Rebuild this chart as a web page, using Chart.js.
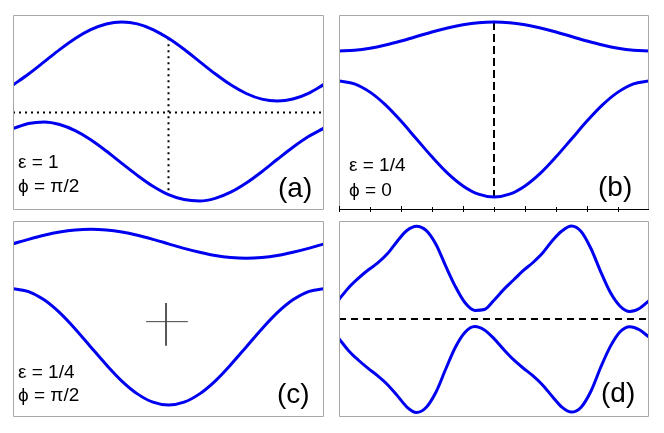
<!DOCTYPE html>
<html>
<head>
<meta charset="utf-8">
<script src="https://cdn.jsdelivr.net/npm/chart.js@4.4.1/dist/chart.umd.min.js"></script>
<style>
  html, body { margin: 0; padding: 0; background: #fff; }
  #wrap { position: relative; width: 664px; height: 433px; overflow: hidden; }
  #wrap canvas { position: absolute; }
</style>
</head>
<body>
<div id="wrap">
  <canvas id="pa" width="311" height="195" style="left:13px;top:15px"></canvas>
  <canvas id="pb" width="310" height="201" style="left:339px;top:15px"></canvas>
  <canvas id="pc" width="311" height="196" style="left:13px;top:221px"></canvas>
  <canvas id="pd" width="310" height="196" style="left:339px;top:221px"></canvas>
</div>
<script>
// sample positions across each panel (fraction of the period window)
const xGrid = [0, 0.05, 0.1, 0.15, 0.2, 0.25, 0.3, 0.35, 0.4, 0.45, 0.5,
               0.55, 0.6, 0.65, 0.7, 0.75, 0.8, 0.85, 0.9, 0.95, 1];
const xFine = [0, 0.031, 0.063, 0.094, 0.125, 0.156, 0.188, 0.219, 0.25, 0.281, 0.313,
               0.344, 0.375, 0.406, 0.438, 0.469, 0.5, 0.531, 0.563, 0.594, 0.625, 0.656,
               0.688, 0.719, 0.75, 0.781, 0.813, 0.844, 0.875, 0.906, 0.938, 0.969, 1];

// (a) eps = 1, phi = pi/2
const aUpper = [0.282, 0.395, 0.519, 0.645, 0.759, 0.849, 0.908, 0.928, 0.909, 0.851, 0.761,
                0.648, 0.522, 0.397, 0.284, 0.195, 0.137, 0.118, 0.138, 0.197, 0.288];
const aLower = [-0.165, -0.113, -0.097, -0.123, -0.186, -0.279, -0.395, -0.522, -0.645, -0.756, -0.842,
                -0.893, -0.908, -0.881, -0.817, -0.723, -0.607, -0.480, -0.356, -0.246, -0.161];
// (b) eps = 1/4, phi = 0
const bUpper = [0.631, 0.638, 0.659, 0.692, 0.733, 0.779, 0.826, 0.867, 0.899, 0.921, 0.928,
                0.921, 0.899, 0.867, 0.826, 0.779, 0.733, 0.692, 0.659, 0.638, 0.631];
const bLower = [0.323, 0.294, 0.209, 0.078, -0.088, -0.272, -0.455, -0.622, -0.753, -0.838, -0.867,
                -0.838, -0.753, -0.622, -0.455, -0.272, -0.088, 0.078, 0.209, 0.294, 0.323];
// (c) eps = 1/4, phi = pi/2
const cUpper = [0.767, 0.813, 0.854, 0.887, 0.908, 0.915, 0.908, 0.887, 0.854, 0.813, 0.767,
                0.721, 0.681, 0.648, 0.627, 0.619, 0.627, 0.648, 0.681, 0.721, 0.767];
const cLower = [0.309, 0.280, 0.196, 0.065, -0.101, -0.285, -0.467, -0.633, -0.764, -0.849, -0.878,
                -0.849, -0.764, -0.633, -0.467, -0.285, -0.101, 0.065, 0.196, 0.280, 0.309];
// (d)
const dUpper = [0.199, 0.320, 0.418, 0.500, 0.572, 0.665, 0.794, 0.903, 0.947, 0.904, 0.760, 0.541, 0.333,
                0.168, 0.088, 0.097, 0.192, 0.300, 0.398, 0.493, 0.574, 0.670, 0.799, 0.898, 0.949, 0.893,
                0.717, 0.484, 0.272, 0.133, 0.076, 0.107, 0.187];
const dLower = [-0.200, -0.323, -0.421, -0.504, -0.580, -0.668, -0.782, -0.898, -0.954, -0.903, -0.745, -0.513, -0.291,
                -0.138, -0.077, -0.112, -0.200, -0.310, -0.415, -0.500, -0.578, -0.670, -0.790, -0.900, -0.950, -0.900,
                -0.735, -0.495, -0.282, -0.132, -0.078, -0.110, -0.185];

// guide lines
const midX = 0.5;
const zeroY = 0;
const crossX = [0.428, 0.562];
const crossY = [0.163, -0.272];
const crossAt = [0.492, -0.027];
const bTicks = [0, 0.1, 0.2, 0.3, 0.4, 0.5, 0.6, 0.7, 0.8, 0.9, 1];

const tags = ['(a)', '(b)', '(c)', '(d)'];
const epsText = ['ε = 1', 'ε = 1/4', 'ε = 1/4'];
const phiText = ['ϕ = π/2', 'ϕ = 0', 'ϕ = π/2'];

const BLUE = 'rgb(0, 0, 240)';
const FRAME = '#a8a8a8';
const FONT = '"Liberation Sans", Arial, sans-serif';

function curve(xs, ys) {
  return {
    data: xs.map((x, i) => ({ x: x, y: ys[i] })),
    borderColor: BLUE, borderWidth: 3, pointRadius: 0,
    cubicInterpolationMode: 'monotone', fill: false
  };
}

function guide(pts, dash, color, width) {
  return {
    data: pts, borderColor: color || '#000', borderWidth: width || 2,
    borderDash: dash, pointRadius: 0, tension: 0, fill: false, borderCapStyle: 'butt'
  };
}

function decor(opt) {
  return {
    id: 'decor',
    afterDraw(chart) {
      const ctx = chart.ctx;
      const a = chart.chartArea;
      ctx.save();
      ctx.lineWidth = 1;
      ctx.strokeStyle = FRAME;
      ctx.beginPath();
      ctx.moveTo(a.left + 0.5, a.bottom - 0.5);
      ctx.lineTo(a.left + 0.5, a.top + 0.5);
      ctx.lineTo(a.right - 0.5, a.top + 0.5);
      ctx.lineTo(a.right - 0.5, a.bottom - 0.5);
      if (!opt.axis) ctx.closePath();
      ctx.stroke();
      if (opt.axis) {
        const xs = chart.scales.x;
        ctx.strokeStyle = '#000';
        ctx.beginPath();
        ctx.moveTo(a.left, a.bottom - 0.5);
        ctx.lineTo(a.right, a.bottom - 0.5);
        bTicks.forEach((t, i) => {
          const px = Math.round(xs.getPixelForValue(t)) + 0.5;
          const up = i % 2 === 0 ? 4 : 3;
          ctx.moveTo(px, a.bottom - up);
          ctx.lineTo(px, a.bottom + 2);
        });
        ctx.stroke();
      }
      ctx.fillStyle = '#000';
      ctx.textBaseline = 'alphabetic';
      if (opt.eps) {
        ctx.font = '19px ' + FONT;
        ctx.fillText(opt.eps, a.left + opt.tx, a.top + opt.ty1);
        ctx.fillText(opt.phi, a.left + opt.tx, a.top + opt.ty2);
      }
      ctx.font = '28px ' + FONT;
      ctx.fillText(opt.tag, a.left + opt.gx, a.top + opt.gy);
      ctx.restore();
    }
  };
}

function makePanel(id, datasets, opt) {
  return new Chart(document.getElementById(id), {
    type: 'line',
    data: { datasets: datasets },
    options: {
      responsive: false,
      animation: false,
      layout: { padding: { left: 0, right: 0, top: 0, bottom: opt.padBottom || 0 } },
      plugins: { legend: { display: false }, tooltip: { enabled: false } },
      scales: {
        x: { type: 'linear', min: 0, max: 1, display: false },
        y: { type: 'linear', min: -1, max: 1, display: false }
      }
    },
    plugins: [decor(opt)]
  });
}

makePanel('pa', [
  curve(xGrid, aUpper),
  curve(xGrid, aLower),
  guide([{ x: 0, y: zeroY }, { x: 1, y: zeroY }], [2, 4]),
  guide([{ x: midX, y: aUpper[10] }, { x: midX, y: aLower[10] }], [2, 4])
], { tag: tags[0], eps: epsText[0], phi: phiText[0], tx: 5, ty1: 153, ty2: 177, gx: 265, gy: 182 });

makePanel('pb', [
  curve(xGrid, bUpper),
  curve(xGrid, bLower),
  guide([{ x: midX, y: bUpper[10] }, { x: midX, y: bLower[10] }], [8, 4])
], { tag: tags[1], eps: epsText[1], phi: phiText[1], tx: 10, ty1: 156, ty2: 181, gx: 259, gy: 181, axis: true, padBottom: 6 });

makePanel('pc', [
  curve(xGrid, cUpper),
  curve(xGrid, cLower),
  guide([{ x: crossX[0], y: crossAt[1] }, { x: crossX[1], y: crossAt[1] }], [], '#444', 1),
  guide([{ x: crossAt[0], y: crossY[0] }, { x: crossAt[0], y: crossY[1] }], [], '#222', 1.5)
], { tag: tags[2], eps: epsText[2], phi: phiText[2], tx: 5, ty1: 157, ty2: 180, gx: 264, gy: 182 });

makePanel('pd', [
  curve(xFine, dUpper),
  curve(xFine, dLower),
  guide([{ x: 0, y: zeroY }, { x: 1, y: zeroY }], [7, 5])
], { tag: tags[3], gx: 262, gy: 181 });
</script>
</body>
</html>
